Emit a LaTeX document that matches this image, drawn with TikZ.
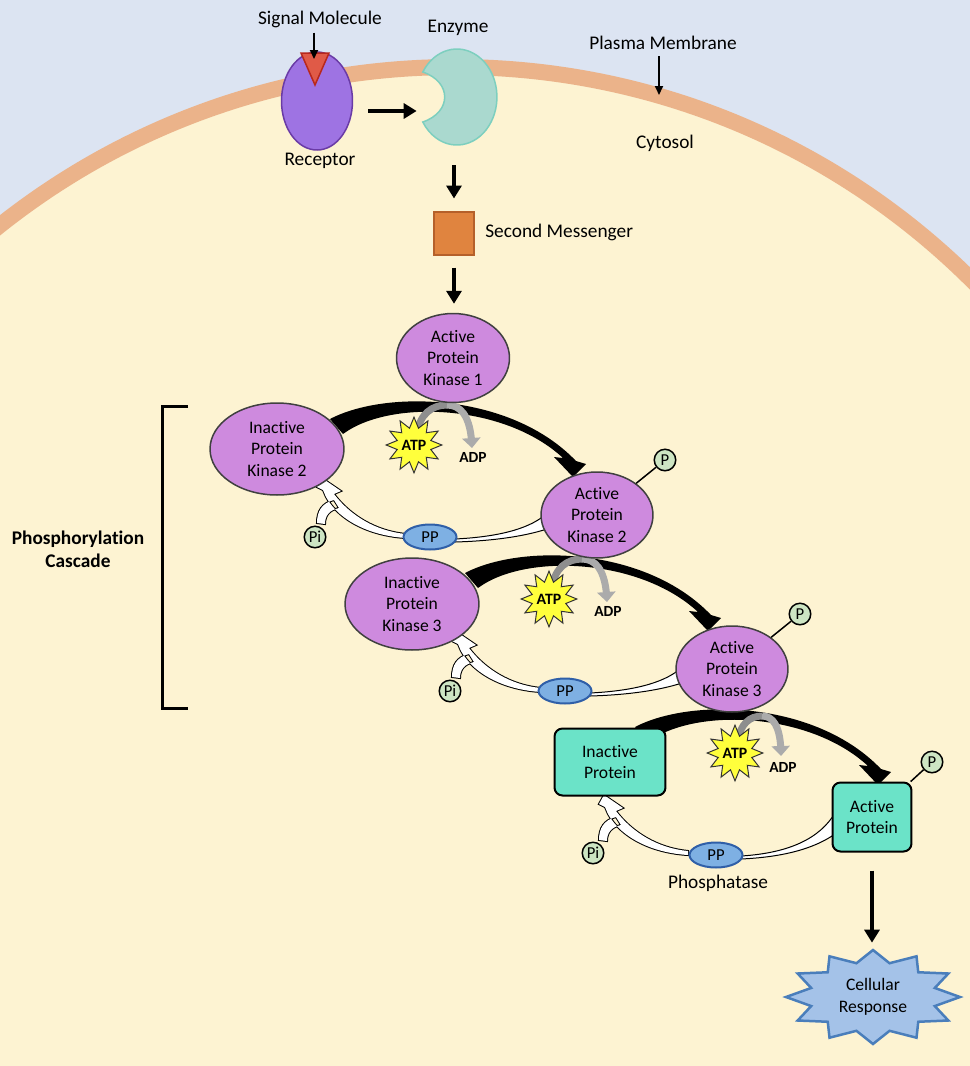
\documentclass[tikz,border=0pt]{standalone}
\usepackage{fontspec}
\setmainfont{Carlito}[Ligatures=NoCommon]
\usetikzlibrary{shapes.geometric,arrows.meta,bending}

\definecolor{sky}{HTML}{DCE4F2}
\definecolor{cytosol}{HTML}{FDF3D2}
\definecolor{membrane}{HTML}{EBB38A}
\definecolor{receptorfill}{HTML}{9E73E3}
\definecolor{receptoredge}{HTML}{6A3BA6}
\definecolor{ligandfill}{HTML}{E05A47}
\definecolor{ligandedge}{HTML}{B8281C}
\definecolor{enzymefill}{HTML}{AAD9CF}
\definecolor{enzymeedge}{HTML}{7DCFBF}
\definecolor{messengerfill}{HTML}{E0843F}
\definecolor{messengeredge}{HTML}{B5602A}
\definecolor{kinasefill}{HTML}{CE8ADE}
\definecolor{kinaseedge}{HTML}{404040}
\definecolor{proteinfill}{HTML}{6BE3C8}
\definecolor{ppfill}{HTML}{7EB0E3}
\definecolor{ppedge}{HTML}{2F5FA8}
\definecolor{phosfill}{HTML}{CDE5C3}
\definecolor{atpfill}{HTML}{FFFF3C}
\definecolor{adpdark}{HTML}{8E8E8E}
\definecolor{adplight}{HTML}{ABABAB}
\definecolor{burstfill}{HTML}{A4C2E8}
\definecolor{burstedge}{HTML}{4A7EBB}

\tikzset{
  kinase/.style={ellipse, draw=kinaseedge, line width=0.03cm, fill=kinasefill, align=center, inner sep=0pt, font=\fontsize{10}{12.4}\selectfont},
  protein/.style={rectangle, rounded corners=0.16cm, draw=black, line width=0.04cm, fill=proteinfill, align=center, inner sep=0pt, font=\fontsize{10}{12.4}\selectfont},
  pgroup/.style={circle, draw=black, line width=0.03cm, fill=phosfill, inner sep=0pt, minimum size=0.43cm, font=\fontsize{9.5}{11}\selectfont},
  ppase/.style={ellipse, draw=ppedge, line width=0.04cm, fill=ppfill, inner sep=0pt, minimum width=1.06cm, minimum height=0.5cm, font=\fontsize{9.5}{11}\selectfont},
  atpstar/.style={star, star points=12, star point ratio=1.6, draw=black!80, line width=0.02cm, fill=atpfill, inner sep=0pt, minimum size=0.92cm, font=\bfseries\fontsize{9}{10}\selectfont},
  adp/.style={inner sep=0pt, font=\bfseries\fontsize{8.8}{10}\selectfont},
  lbl/.style={inner sep=0pt},
  bigarrow/.style={line width=0.09cm, -{Triangle[width=0.3cm,length=0.26cm]}},
  pointer/.style={line width=0.04cm, -{Triangle[width=0.16cm,length=0.18cm]}},
  dephos/.style={line width=0.04cm}
}

\begin{document}
\begin{tikzpicture}[x=0.02cm, y=-0.02cm, font=\fontsize{11}{13}\selectfont]
\useasboundingbox (0,0) rectangle (970,1066);
% outside and cell
\fill[sky] (0,0) rectangle (970,1066);
\begin{scope}
\clip (0,0) rectangle (970,1066);
\draw[membrane, line width=0.32cm, fill=cytosol] (455,800) circle[radius=733];
\end{scope}

% phosphorylation arrows
\foreach \dx/\dy in {0/0,135/154,305/308}{
\fill[shift={(\dx,\dy)}] (330,419) .. controls (385,390) and (510,392) .. (576,461) -- (586,464) -- (573,477) -- (554,457) -- (563,458) .. controls (505,404) and (390,399) .. (343,434) -- cycle;
}

% ATP -> ADP and phosphatase return
\foreach \dx/\dy in {0/0,135/154}{
\begin{scope}[shift={(\dx,\dy)}]
\draw[adpdark, line width=0.14cm] (417,433) .. controls (420,414) and (432,405) .. (447,405);
\draw[adplight, line width=0.14cm, -{Triangle[width=0.36cm,length=0.2cm,flex]}] (447,405) .. controls (462,405) and (471,418) .. (472,448);
\filldraw[fill=white, line width=0.02cm] (455,539) .. controls (495,537) and (527,530) .. (545,515) -- (547,529) .. controls (522,537) and (490,541) .. (455,542) -- cycle;
\end{scope}
}
\draw[adpdark, line width=0.14cm] (738,741) .. controls (740,724) and (750,716) .. (762,716);
\draw[adplight, line width=0.14cm, -{Triangle[width=0.36cm,length=0.2cm,flex]}] (762,716) .. controls (775,716) and (781,730) .. (781,756);
\filldraw[fill=white, line width=0.02cm] (741,856) .. controls (790,853) and (820,838) .. (835,813) -- (835,834) .. controls (815,848) and (785,857) .. (741,859) -- cycle;

\foreach \dx/\dy in {0/0,135/154,282/317}{
\begin{scope}[shift={(\dx,\dy)}]
\draw[dephos] (322,478) -- (341,491) -- (334,494) .. controls (350,515) and (375,531) .. (406,534) -- (406,538) .. controls (372,536) and (340,522) .. (326,497) -- (323,490) -- (317,487) -- cycle
  (334,500) .. controls (322,503) and (317,511) .. (317,523) -- (325,524) .. controls (325,515) and (330,510) .. (339,508) -- cycle;
\fill[white] (322,478) -- (341,491) -- (334,494) .. controls (350,515) and (375,531) .. (406,534) -- (406,538) .. controls (372,536) and (340,522) .. (326,497) -- (323,490) -- (317,487) -- cycle
  (334,500) .. controls (322,503) and (317,511) .. (317,523) -- (325,524) .. controls (325,515) and (330,510) .. (339,508) -- cycle;
\end{scope}
}

% membrane side
\node (sig) at (320,19) [lbl] {Signal Molecule};
\node (receptor) at (317,101) [ellipse, draw=receptoredge, line width=0.03cm, fill=receptorfill, minimum width=1.42cm, minimum height=1.96cm] {};
\draw[draw=ligandedge, fill=ligandfill, line width=0.03cm] (301,53) -- (329,53) -- (315,85) -- cycle;
\coordinate (site) at (314,59);
\node (reclbl) at (320,161) [lbl] {Receptor};
\fill[enzymefill, draw=enzymeedge, line width=0.03cm] (422.8,72) arc[start angle=211.4, end angle=508.6, x radius=40, y radius=48] .. controls (452,112) and (452,82) .. cycle;
\node (enzyme) at (457,97) [minimum width=1.6cm, minimum height=1.92cm, inner sep=0pt] {};
\node (enzlbl) at (458,28) [lbl] {Enzyme};
\node (pm) at (663,43) [lbl] {Plasma Membrane};
\coordinate (mem) at (659,95);
\node (cyto) at (665,143) [lbl] {Cytosol};
\node (msg) at (454,233) [rectangle, draw=messengeredge, line width=0.04cm, fill=messengerfill, minimum width=0.82cm, minimum height=0.86cm] {};
\node (msglbl) at (485,232) [lbl, anchor=west] {Second Messenger};
\node (apk1) at (453,358) [kinase, minimum width=2.26cm, minimum height=1.78cm] {Active\\Protein\\Kinase 1};

% cascade
\node (ipk2) at (277,449) [kinase, minimum width=2.68cm, minimum height=1.84cm] {Inactive\\Protein\\Kinase 2};
\node (apk2) at (597,515) [kinase, minimum width=2.24cm, minimum height=1.72cm] {Active\\Protein\\Kinase 2};
\node (atp2) at (414,445) [atpstar] {ATP};
\node (adp2) at (473,457) [adp] {ADP};
\node (p2) at (665,460) [pgroup] {P};
\node (pp2) at (430,537) [ppase] {PP};
\node (pi2) at (315,537) [pgroup] {Pi};

\node (ipk3) at (412,604) [kinase, minimum width=2.68cm, minimum height=1.84cm] {Inactive\\Protein\\Kinase 3};
\node (apk3) at (732,669) [kinase, minimum width=2.24cm, minimum height=1.72cm] {Active\\Protein\\Kinase 3};
\node (atp3) at (549,599) [atpstar] {ATP};
\node (adp3) at (608,611) [adp] {ADP};
\node (p3) at (800,614) [pgroup] {P};
\node (pp3) at (565,691) [ppase] {PP};
\node (pi3) at (450,691) [pgroup] {Pi};

\node (ip) at (610,762) [protein, minimum width=2.22cm, minimum height=1.34cm] {Inactive\\Protein};
\node (ap) at (872,817) [protein, minimum width=1.58cm, minimum height=1.38cm] {Active\\Protein};
\node (atp4) at (735,753) [atpstar] {ATP};
\node (adp4) at (783,767) [adp] {ADP};
\node (p4) at (932,762) [pgroup] {P};
\node (pp4) at (716,855) [ppase] {PP};
\node (pi4) at (593,853) [pgroup] {Pi};
\node (phosphatase) at (718,883) [lbl] {Phosphatase};

\draw[line width=0.03cm] (apk2) -- (p2);
\draw[line width=0.03cm] (apk3) -- (p3);
\draw[line width=0.03cm] (ap) -- (p4);

% bracket
\draw[line width=0.06cm] (188,406) -- (162,406) -- (162,708) -- (188,708);
\node (casc) at (78,549) [lbl, align=center, font=\bfseries\fontsize{11}{13}\selectfont] {Phosphorylation\\Cascade};

% response
\draw[draw=burstedge, fill=burstfill, line width=0.05cm] plot[variable=\k, samples at={0,...,23}] ({873+ifthenelse(mod(\k,2)==0,87,64)*sin(15*\k)}, {997-ifthenelse(mod(\k,2)==0,47,35)*cos(15*\k)}) -- cycle;
\node (resp) at (873,997) [align=center, inner sep=0pt, minimum width=3.48cm, minimum height=1.88cm, font=\fontsize{10}{12.4}\selectfont] {Cellular\\Response};

% connectors
\draw[pointer, shorten <=0.1cm] (site |- sig.south) -- (site);
\draw[pointer, shorten <=0.12cm] (mem |- pm.south) -- (mem);
\draw[bigarrow, shorten <=0.3cm] ([yshift=-0.2cm]receptor.east) -- ([yshift=-0.2cm]receptor.east -| enzyme.west);
\draw[bigarrow, shorten <=0.4cm, shorten >=0.24cm] (msg.north |- enzyme.south) -- (msg.north);
\draw[bigarrow, shorten <=0.24cm, shorten >=0.18cm] (msg.south) -- (msg.south |- apk1.north);
\draw[bigarrow, shorten <=0.36cm, shorten >=0.14cm] (ap.south) -- (ap.south |- resp.north);
\end{tikzpicture}
\end{document}
